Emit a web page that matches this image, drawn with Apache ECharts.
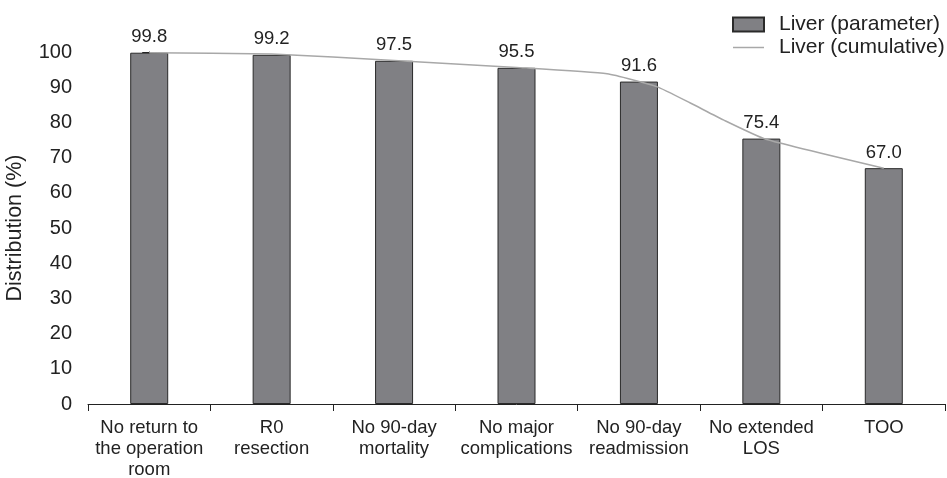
<!DOCTYPE html>
<html><head><meta charset="utf-8">
<script src="https://cdn.jsdelivr.net/npm/echarts@6/dist/echarts.min.js"></script>
<style>html,body{margin:0;padding:0;background:#fff}#c{width:947px;height:478px}</style>
</head><body><div id="c"></div>
<script>
var categories = ['No return to\nthe operation\nroom', 'R0\nresection', 'No 90-day\nmortality', 'No major\ncomplications', 'No 90-day\nreadmission', 'No extended\nLOS', 'TOO'];
var parameterValues = [99.8, 99.2, 97.5, 95.5, 91.6, 75.4, 67.0];
// cumulative curve as [category position, value]
var cumulativePoints = [[0, 99.8], [1, 99.4], [2, 97.6], [3, 95.6], [3.74, 93.8], [4.15, 90.1], [4.42, 85.5], [4.69, 80.7], [5.03, 75.3], [6, 67.0]];
var yTicks = {min: 0, max: 100, interval: 10};

var chart = echarts.init(document.getElementById('c'), null, {renderer: 'canvas'});
var font = 'Liberation Sans, Arial, sans-serif';
chart.setOption({
  animation: false,
  textStyle: {fontFamily: font, color: '#222'},
  legend: {
    orient: 'vertical', left: 732, top: 14, itemWidth: 31, itemHeight: 14, itemGap: 2,
    padding: 0,
    textStyle: {fontSize: 21, color: '#222', fontFamily: font, padding: [0, 0, 0, 10]},
    data: [
      {name: 'Liver (parameter)', icon: 'rect'},
      {name: 'Liver (cumulative)', icon: 'path://M0,0H31V1.5H0Z'}
    ]
  },
  grid: {left: 88, right: 2, top: 52, bottom: 74, containLabel: false, outerBoundsMode: 'none'},
  xAxis: [{
    type: 'category', data: categories,
    axisLine: {lineStyle: {color: '#222', width: 1}},
    axisTick: {show: true, inside: false, length: 7, alignWithLabel: false, lineStyle: {color: '#222'}},
    axisLabel: {fontSize: 18.5, color: '#222', lineHeight: 21, margin: 13, fontFamily: font, interval: 0}
  }, {
    type: 'value', min: -0.5, max: 6.5, show: false
  }],
  yAxis: {
    type: 'value', min: yTicks.min, max: yTicks.max, interval: yTicks.interval,
    name: 'Distribution (%)', nameLocation: 'middle', nameGap: 62,
    nameTextStyle: {fontSize: 21.5, color: '#222', fontFamily: font},
    axisLine: {show: true, lineStyle: {color: '#222', width: 1}},
    axisTick: {show: true, length: 7, lineStyle: {color: '#222'}},
    axisLabel: {fontSize: 20, color: '#222', margin: 16, fontFamily: font},
    splitLine: {show: false}
  },
  series: [{
    name: 'Liver (parameter)', type: 'bar', data: parameterValues, barWidth: 38,
    xAxisIndex: 0,
    itemStyle: {color: '#808084', borderColor: '#2a2a2a', borderWidth: 1},
    label: {show: true, position: 'top', distance: 6, fontSize: 18.5, color: '#222', fontFamily: font,
      formatter: function (p) { return p.value.toFixed(1); }},
    z: 2
  }, {
    name: 'Liver (cumulative)', type: 'line', xAxisIndex: 1, data: cumulativePoints,
    symbol: 'none', smooth: 0.15,
    lineStyle: {color: '#a8a8a8', width: 1.5},
    itemStyle: {color: '#a8a8a8'},
    z: 3
  }]
});
</script></body></html>
